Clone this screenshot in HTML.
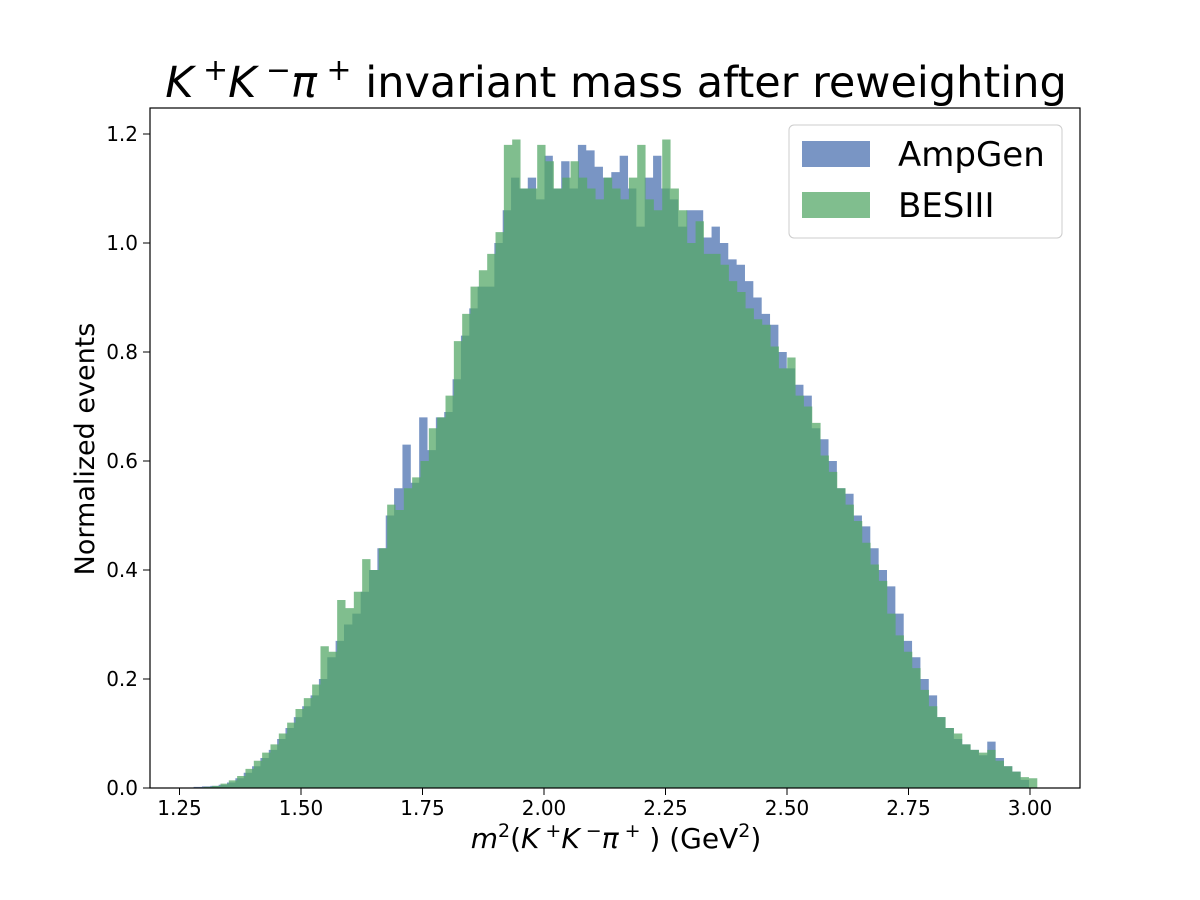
<!DOCTYPE html>
<html><head><meta charset="utf-8"><style>
body{margin:0;background:#fff;}
svg{display:block;font-family:"DejaVu Sans","Liberation Sans",sans-serif;}
</style></head><body>
<svg id="chart" width="1200" height="900" viewBox="0 0 1200 900">
<text x="616" y="97" text-anchor="middle" font-size="43"><tspan font-style="italic">K</tspan><tspan dy="-17" font-size="30"> +</tspan><tspan dy="17" font-style="italic">K</tspan><tspan dy="-17" font-size="30"> −</tspan><tspan dy="17" font-style="italic">π</tspan><tspan dy="-17" font-size="30"> +</tspan><tspan dy="17">  invariant mass after reweighting</tspan></text>
<g id="bars"></g>
<rect x="150" y="108" width="930" height="680" fill="none" stroke="#000" stroke-width="1.2"/>
<g id="ticks"></g>
<text x="616" y="848" text-anchor="middle" font-size="28"><tspan font-style="italic">m</tspan><tspan dy="-11" font-size="19">2</tspan><tspan dy="11">(</tspan><tspan font-style="italic">K</tspan><tspan dy="-11" font-size="19"> +</tspan><tspan dy="11" font-style="italic">K</tspan><tspan dy="-11" font-size="19"> −</tspan><tspan dy="11" font-style="italic">π</tspan><tspan dy="-11" font-size="19"> +</tspan><tspan dy="11"> ) (GeV</tspan><tspan dy="-11" font-size="19">2</tspan><tspan dy="11">)</tspan></text>
<text transform="translate(94,449) rotate(-90)" text-anchor="middle" font-size="27">Normalized events</text>
<g>
<rect x="789" y="125" width="273" height="113" rx="5" fill="#fff" fill-opacity="0.8" stroke="#ccc"/>
<rect x="802" y="141" width="68" height="26" fill="#4C72B0" fill-opacity="0.75"/>
<text x="898" y="166" font-size="34">AmpGen</text>
<rect x="802" y="192" width="68" height="26" fill="#55A868" fill-opacity="0.75"/>
<text x="898" y="217" font-size="34">BESIII</text>
</g>
</svg>
<script>
const ampgenRange = [1.279, 2.998];
const ampgenValues = [0.002,0.003,0.004,0.006,0.01,0.018,0.028,0.04,0.055,0.07,0.09,0.11,0.13,0.15,0.17,0.2,0.24,0.27,0.3,0.32,0.36,0.4,0.44,0.5,0.55,0.63,0.56,0.68,0.62,0.68,0.69,0.75,0.83,0.88,0.92,0.92,1.0,1.06,1.12,1.1,1.12,1.08,1.16,1.1,1.15,1.1,1.18,1.17,1.14,1.12,1.13,1.16,1.1,1.03,1.12,1.16,1.1,1.08,1.03,1.06,1.06,1.01,1.03,1.0,0.97,0.96,0.93,0.9,0.87,0.85,0.8,0.77,0.74,0.72,0.66,0.64,0.6,0.55,0.54,0.5,0.48,0.44,0.4,0.37,0.32,0.27,0.24,0.2,0.17,0.13,0.11,0.09,0.08,0.07,0.06,0.085,0.055,0.04,0.03,0.015];
const besiiiRange = [1.30, 3.015];
const besiiiValues = [0.002,0.004,0.008,0.014,0.022,0.035,0.05,0.065,0.08,0.1,0.12,0.145,0.165,0.19,0.26,0.25,0.345,0.33,0.36,0.42,0.4,0.44,0.52,0.51,0.55,0.57,0.6,0.66,0.68,0.72,0.82,0.87,0.92,0.95,0.98,1.02,1.18,1.19,1.1,1.1,1.18,1.15,1.1,1.12,1.15,1.12,1.1,1.08,1.12,1.1,1.08,1.12,1.18,1.08,1.06,1.19,1.1,1.06,1.0,1.04,0.98,0.98,0.96,0.93,0.91,0.88,0.86,0.85,0.81,0.77,0.79,0.72,0.7,0.67,0.61,0.58,0.55,0.52,0.49,0.45,0.41,0.38,0.32,0.28,0.25,0.22,0.18,0.15,0.13,0.11,0.1,0.08,0.07,0.065,0.07,0.05,0.04,0.03,0.02,0.018];
const xTicks = [1.25,1.50,1.75,2.00,2.25,2.50,2.75,3.00];
const yTicks = [0.0,0.2,0.4,0.6,0.8,1.0,1.2];

const NS = "http://www.w3.org/2000/svg";
const xScale = v => 179.5 + (v - 1.25) * 486;
const yScale = v => 788 - v * 545;

function drawHist(vals, range, color, name) {
  const g = document.getElementById('bars');
  const w = (range[1] - range[0]) / vals.length;
  let d = '';
  vals.forEach((v, i) => {
    const x0 = xScale(range[0] + i * w), x1 = xScale(range[0] + (i + 1) * w);
    d += `M${x0},${yScale(0)}V${yScale(v)}H${x1}V${yScale(0)}Z`;
  });
  const p = document.createElementNS(NS, 'path');
  p.setAttribute('d', d);
  p.setAttribute('fill', color);
  p.setAttribute('fill-opacity', '0.75');
  
  
  g.appendChild(p);
}
drawHist(ampgenValues, ampgenRange, '#4C72B0', 'ampgen-histogram');
drawHist(besiiiValues, besiiiRange, '#55A868', 'besiii-histogram');

const tg = document.getElementById('ticks');
xTicks.forEach(t => {
  const x = xScale(t);
  const l = document.createElementNS(NS, 'line');
  l.setAttribute('x1', x); l.setAttribute('x2', x); l.setAttribute('y1', 788); l.setAttribute('y2', 795);
  l.setAttribute('stroke', '#000');
  
  
  tg.appendChild(l);
  const tx = document.createElementNS(NS, 'text');
  tx.setAttribute('x', x); tx.setAttribute('y', 815); tx.setAttribute('text-anchor', 'middle'); tx.setAttribute('font-size', '20');
  tx.textContent = t.toFixed(2);
  
  
  tg.appendChild(tx);
});
yTicks.forEach(t => {
  const y = yScale(t);
  const l = document.createElementNS(NS, 'line');
  l.setAttribute('x1', 143); l.setAttribute('x2', 150); l.setAttribute('y1', y); l.setAttribute('y2', y);
  l.setAttribute('stroke', '#000');
  
  
  tg.appendChild(l);
  const tx = document.createElementNS(NS, 'text');
  tx.setAttribute('x', 138); tx.setAttribute('y', y + 7); tx.setAttribute('text-anchor', 'end'); tx.setAttribute('font-size', '20');
  tx.textContent = t.toFixed(1);
  
  
  tg.appendChild(tx);
});
</script>
</body></html>
